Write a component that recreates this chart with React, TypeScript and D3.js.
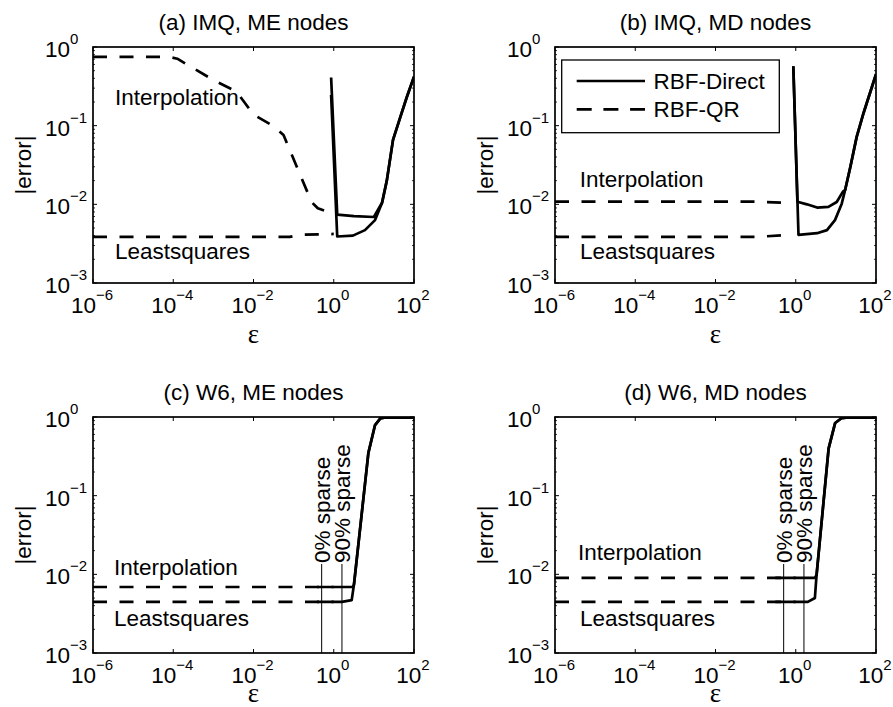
import React from 'react';
import * as d3 from 'd3';

const W = 893;
const H = 707;
const PW = 321;
const PH = 236;
const SANS = '"Liberation Sans", Arial, Helvetica, sans-serif';
const SERIF = '"Liberation Serif", "Times New Roman", serif';

// ---------- tick / label data ----------
const xTickExps = [-6, -4, -2, 0, 2];
const yTickExps = [0, -1, -2, -3];
const panelTitles = ['(a) IMQ, ME nodes', '(b) IMQ, MD nodes', '(c) W6, ME nodes', '(d) W6, MD nodes'];
const legendLabels = ['RBF-Direct', 'RBF-QR'];
const curveLabels = ['Interpolation', 'Leastsquares'];
const sparseLabels = ['0% sparse', '90% sparse'];
const sparseEps = [0.5, 1.6];

// ---------- panel (a) IMQ, ME nodes ----------
const aQrInterpEps = [1e-6, 7.9e-5, 1.26e-4, 1e-3, 3.8e-3, 1e-2, 3.2e-2, 5.6e-2, 0.28, 0.4, 1];
const aQrInterpErr = [0.75, 0.75, 0.71, 0.38, 0.27, 0.138, 0.098, 0.076, 0.0107, 0.0089, 0.0076];
const aQrLsEps = [1e-6, 0.08, 0.15, 1];
const aQrLsErr = [0.00385, 0.00385, 0.0041, 0.0042];
const aDirInterpEps = [0.86, 1.22, 3.2, 10, 16, 21, 30, 46, 66, 100];
const aDirInterpErr = [0.41, 0.0074, 0.0071, 0.0069, 0.0105, 0.02, 0.066, 0.13, 0.23, 0.42];
const aDirLsEps = [0.86, 1.22, 3.0, 6.0, 10.7, 16, 21, 30, 46, 66, 100];
const aDirLsErr = [0.245, 0.0039, 0.004, 0.0047, 0.0063, 0.0105, 0.02, 0.066, 0.13, 0.23, 0.42];

// ---------- panel (b) IMQ, MD nodes ----------
const bQrInterpEps = [1e-6, 0.1, 0.72];
const bQrInterpErr = [0.0108, 0.0108, 0.0104];
const bQrLsEps = [1e-6, 0.1, 0.72];
const bQrLsErr = [0.00385, 0.00385, 0.0041];
const bDirInterpEps = [0.87, 1.1, 1.9, 3.4, 6.5, 10.5, 15, 17, 23, 33, 49, 100];
const bDirInterpErr = [0.57, 0.0108, 0.01, 0.0091, 0.0093, 0.0107, 0.0145, 0.0152, 0.03, 0.072, 0.145, 0.45];
const bDirLsEps = [0.87, 1.17, 3.4, 6, 9.5, 14, 17, 23, 33, 49, 100];
const bDirLsErr = [0.57, 0.0041, 0.0043, 0.0047, 0.0063, 0.0102, 0.0152, 0.03, 0.072, 0.145, 0.45];

// ---------- panel (c) W6, ME nodes ----------
const cQrInterpEps = [1e-6, 1];
const cQrInterpErr = [0.0069, 0.0069];
const cQrLsEps = [1e-6, 1];
const cQrLsErr = [0.00446, 0.00446];
const cDirInterpEps = [0.38, 3.0, 3.2, 7.3, 10.7, 14.5, 18, 100];
const cDirInterpErr = [0.0069, 0.0069, 0.0075, 0.35, 0.79, 0.96, 0.98, 0.98];
const cDirLsEps = [0.38, 1.6, 2.8, 3.2, 7.3, 10.7, 14.5, 18, 100];
const cDirLsErr = [0.00446, 0.00446, 0.0047, 0.0075, 0.35, 0.79, 0.96, 0.98, 0.98];

// ---------- panel (d) W6, MD nodes ----------
const dQrInterpEps = [1e-6, 1];
const dQrInterpErr = [0.009, 0.009];
const dQrLsEps = [1e-6, 1];
const dQrLsErr = [0.00446, 0.00446];
const dDirInterpEps = [0.31, 3.0, 3.3, 6.6, 9.6, 14, 18, 100];
const dDirInterpErr = [0.009, 0.009, 0.0098, 0.4, 0.84, 0.97, 0.98, 0.98];
const dDirLsEps = [0.31, 2.0, 3.0, 3.3, 6.6, 9.6, 14, 18, 100];
const dDirLsErr = [0.00446, 0.00446, 0.005, 0.0098, 0.4, 0.84, 0.97, 0.98, 0.98];

type Series = { eps: number[]; err: number[]; dashed: boolean };

const panelSeries: Series[][] = [
  [
    { eps: aQrInterpEps, err: aQrInterpErr, dashed: true },
    { eps: aQrLsEps, err: aQrLsErr, dashed: true },
    { eps: aDirInterpEps, err: aDirInterpErr, dashed: false },
    { eps: aDirLsEps, err: aDirLsErr, dashed: false },
  ],
  [
    { eps: bQrInterpEps, err: bQrInterpErr, dashed: true },
    { eps: bQrLsEps, err: bQrLsErr, dashed: true },
    { eps: bDirInterpEps, err: bDirInterpErr, dashed: false },
    { eps: bDirLsEps, err: bDirLsErr, dashed: false },
  ],
  [
    { eps: cQrInterpEps, err: cQrInterpErr, dashed: true },
    { eps: cQrLsEps, err: cQrLsErr, dashed: true },
    { eps: cDirInterpEps, err: cDirInterpErr, dashed: false },
    { eps: cDirLsEps, err: cDirLsErr, dashed: false },
  ],
  [
    { eps: dQrInterpEps, err: dQrInterpErr, dashed: true },
    { eps: dQrLsEps, err: dQrLsErr, dashed: true },
    { eps: dDirInterpEps, err: dDirInterpErr, dashed: false },
    { eps: dDirLsEps, err: dDirLsErr, dashed: false },
  ],
];

// layout (pixels)
const panelLeft = [93, 555, 93, 555];
const panelTop = [47, 47, 417, 417];
const labelOffsets = [
  [[22, 58], [22, 212.3]],
  [[24.7, 139.7], [25, 212.3]],
  [[21, 157.7], [21, 209.4]],
  [[23, 142.7], [25, 209.4]],
];
const epsBaseline = [296, 296, 285, 285];
const showSparse = [false, false, true, true];
const showLegend = [false, true, false, false];

const supText = (e: number) => (e < 0 ? '\u2212' + Math.abs(e) : String(e));

function Panel({ idx }: { idx: number }) {
  const left = panelLeft[idx];
  const top = panelTop[idx];
  const x = d3.scaleLog().domain([1e-6, 1e2]).range([left, left + PW]);
  const y = d3.scaleLog().domain([1e-3, 1]).range([top + PH, top]);
  const line = d3
    .line<[number, number]>()
    .x((d) => x(d[0]))
    .y((d) => y(d[1]));

  const minorY: number[] = [];
  for (let k = -3; k < 0; k++) for (let m = 2; m <= 9; m++) minorY.push(m * Math.pow(10, k));

  const clipId = `clip${idx}`;
  const cx = left + PW / 2;

  return (
    <g>
      <defs>
        <clipPath id={clipId}>
          <rect x={left} y={top} width={PW} height={PH} />
        </clipPath>
      </defs>
      <rect x={left} y={top} width={PW} height={PH} fill="#fff" />

      {/* data */}
      <g clipPath={`url(#${clipId})`}>
        {panelSeries[idx].map((s, i) => (
          <path
            key={i}
            d={line(s.eps.map((e, j) => [e, s.err[j]] as [number, number])) || ''}
            fill="none"
            stroke="#000"
            strokeWidth={2.7}
            strokeDasharray={s.dashed ? '14 12.5' : undefined}
            strokeLinejoin="round"
          />
        ))}
      </g>

      {/* sparse markers */}
      {showSparse[idx] &&
        sparseEps.map((e, i) => (
          <g key={'sp' + i}>
            <line x1={x(e)} x2={x(e)} y1={top + 147} y2={top + PH} stroke="#000" strokeWidth={1} />
            <text
              transform={`translate(${x(e) + 8.3},${top + 146}) rotate(-90)`}
              fontFamily={SANS}
              fontSize={22.5}
              textAnchor="start"
            >
              {sparseLabels[i]}
            </text>
          </g>
        ))}

      {/* curve labels */}
      {curveLabels.map((t, i) => (
        <text
          key={'cl' + i}
          x={left + labelOffsets[idx][i][0]}
          y={top + labelOffsets[idx][i][1]}
          fontFamily={SANS}
          fontSize={22.5}
        >
          {t}
        </text>
      ))}

      {/* legend */}
      {showLegend[idx] && (
        <g>
          <rect x={left + 6.7} y={top + 13} width={217.6} height={72.7} fill="#fff" stroke="#000" strokeWidth={1.3} />
          <line x1={left + 21.7} x2={left + 90} y1={top + 34} y2={top + 34} stroke="#000" strokeWidth={2.7} />
          <line
            x1={left + 21.7}
            x2={left + 90}
            y1={top + 62.3}
            y2={top + 62.3}
            stroke="#000"
            strokeWidth={2.7}
            strokeDasharray="15 11.7"
          />
          <text x={left + 98.5} y={top + 41.5} fontFamily={SANS} fontSize={22.5}>
            {legendLabels[0]}
          </text>
          <text x={left + 98.5} y={top + 70.3} fontFamily={SANS} fontSize={22.5}>
            {legendLabels[1]}
          </text>
        </g>
      )}

      {/* ticks */}
      {xTickExps.map((e) => {
        const px = x(Math.pow(10, e));
        return (
          <g key={'xt' + e}>
            <line x1={px} x2={px} y1={top + PH} y2={top + PH - 4} stroke="#000" strokeWidth={1} />
            <line x1={px} x2={px} y1={top} y2={top + 4} stroke="#000" strokeWidth={1} />
            <text x={px - 1} y={top + PH + 30} textAnchor="middle" fontFamily={SANS} fontSize={22.5}>
              10
              <tspan fontSize={15} dy={-13}>
                {supText(e)}
              </tspan>
            </text>
          </g>
        );
      })}
      {yTickExps.map((e) => {
        const py = y(Math.pow(10, e));
        return (
          <g key={'yt' + e}>
            <line x1={left} x2={left + 4} y1={py} y2={py} stroke="#000" strokeWidth={1} />
            <line x1={left + PW} x2={left + PW - 4} y1={py} y2={py} stroke="#000" strokeWidth={1} />
            <text x={left - 48} y={py + 10} fontFamily={SANS} fontSize={22.5}>
              10
              <tspan fontSize={15} dy={-13}>
                {supText(e)}
              </tspan>
            </text>
          </g>
        );
      })}
      {minorY.map((v, i) => (
        <g key={'my' + i}>
          <line x1={left} x2={left + 2} y1={y(v)} y2={y(v)} stroke="#000" strokeWidth={0.8} />
          <line x1={left + PW} x2={left + PW - 2} y1={y(v)} y2={y(v)} stroke="#000" strokeWidth={0.8} />
        </g>
      ))}

      {/* frame */}
      <rect x={left} y={top} width={PW} height={PH} fill="none" stroke="#000" strokeWidth={1.7} />

      {/* titles */}
      <text x={cx} y={top - 17} textAnchor="middle" fontFamily={SANS} fontSize={22.5}>
        {panelTitles[idx]}
      </text>
      <text x={cx} y={top + epsBaseline[idx]} textAnchor="middle" fontFamily={SERIF} fontSize={27}>
        ε
      </text>
      <text
        transform={`translate(${left - 62},${top + PH / 2}) rotate(-90)`}
        textAnchor="middle"
        fontFamily={SANS}
        fontSize={22.5}
      >
        |error|
      </text>
    </g>
  );
}

export default function App() {
  return (
    <svg width={W} height={H} style={{ display: 'block', position: 'absolute', left: 0, top: 0, background: '#fff' }}>
      <rect x={0} y={0} width={W} height={H} fill="#fff" />
      {[0, 1, 2, 3].map((i) => (
        <Panel key={i} idx={i} />
      ))}
    </svg>
  );
}
